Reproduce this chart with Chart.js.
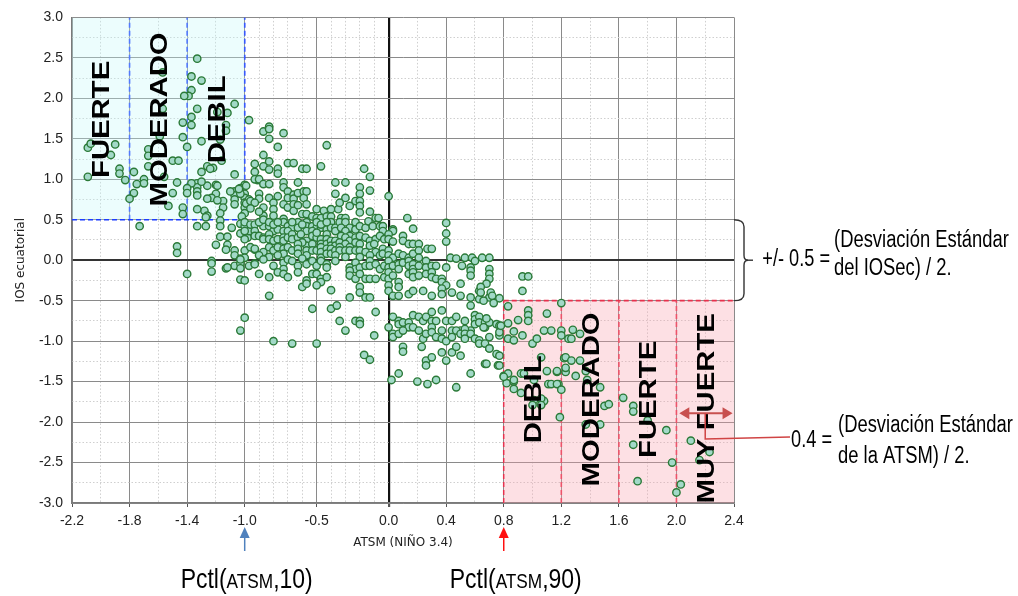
<!DOCTYPE html>
<html>
<head>
<meta charset="utf-8">
<script src="https://cdn.jsdelivr.net/npm/chart.js@4.4.1/dist/chart.umd.min.js"></script>
<style>
  html, body { margin: 0; padding: 0; background: #fff; }
</style>
</head>
<body>
<canvas id="myChart" width="1018" height="596"></canvas>
<script>
// ticks
var xTicks = [-2.2, -1.8, -1.4, -1.0, -0.5, 0, 0.4, 0.8, 1.2, 1.6, 2.0, 2.4];
var xMinor = [-2.0, -1.6, -1.2, -0.9, -0.8, -0.7, -0.6, -0.4, -0.3, -0.2, -0.1, 0.2, 0.6, 1.0, 1.4, 1.8, 2.2];
var yTicks = [-3, -2.5, -2, -1.5, -1, -0.5, 0, 0.5, 1, 1.5, 2, 2.5, 3];
var yMinor = [-2.75, -2.25, -1.75, -1.25, -0.75, -0.25, 0.25, 0.75, 1.25, 1.75, 2.25, 2.75];

// La Nina / El Nino classes
var friaLimites = [-1.8, -1.4, -1.0];
var friaClases = ["FUERTE", "MODERADO", "DEBIL"];
var friaCentros = [-2.0, -1.6, -1.2];
var calidaLimites = [0.8, 1.2, 1.6, 2.0];
var calidaClases = ["DEBIL", "MODERADO", "FUERTE", "MUY FUERTE"];
var calidaCentros = [1.0, 1.4, 1.8, 2.2];
var umbralIOS = 0.5;

// ATSM (x), IOS ecuatorial (y)
var obs = [
  [-1.33,2.49],[-1.37,2.27],[-1.30,2.22],[-1.37,2.10],[-1.39,2.03],[-1.42,2.03],[-1.57,2.32],[-1.57,1.87],[-1.33,1.87],[-1.37,1.77],
  [-1.37,1.67],[-1.43,1.70],[-1.43,1.52],[-1.40,1.40],[-1.30,1.47],[-1.19,1.83],[-1.07,1.93],[-1.12,1.82],[-1.13,1.67],[-1.13,1.60],
  [-1.17,1.49],[-1.16,1.23],[-1.22,1.14],[-1.26,1.16],[-1.30,1.09],[-1.24,1.13],[-1.07,1.06],[-0.97,1.73],[-0.93,1.19],[-0.93,1.09],
  [-0.91,0.99],[-1.00,0.93],[-1.03,0.89],[-1.07,0.85],[-1.07,0.80],[-1.07,0.75],[-1.07,0.69],[-1.00,0.82],[-1.00,0.77],[-1.00,0.71],
  [-1.00,0.65],[-1.00,0.58],[-1.03,0.82],[-0.97,0.75],[-1.20,0.93],[-1.20,0.82],[-1.26,0.92],[-1.33,0.95],[-1.33,0.90],[-1.33,0.85],
  [-1.33,0.80],[-1.37,0.95],[-1.40,0.89],[-1.40,0.83],[-1.43,0.65],[-1.43,0.57],[-1.23,0.77],[-1.26,0.76],[-1.28,0.61],[-1.26,0.55],
  [-1.33,0.63],[-1.15,0.73],[-1.15,0.65],[-1.17,0.58],[-1.30,0.97],[-1.19,0.92],[-1.27,0.53],[-1.10,0.85],[-1.04,0.88],[-0.99,0.92],
  [-0.99,0.70],[-0.96,0.73],[-1.02,0.54],[-1.19,0.74],
  [-1.67,1.37],[-1.67,1.29],[-1.67,1.16],[-1.59,1.53],[-1.70,1.00],[-1.70,0.95],[-1.75,0.94],[-1.77,0.83],[-1.80,0.76],[-1.50,1.23],
  [-1.46,1.23],[-1.56,1.03],[-1.50,0.83],[-1.47,0.96],[-1.53,0.67],[-1.77,1.09],
  [-2.09,1.03],[-2.09,1.39],[-2.07,1.44],[-1.90,1.43],[-1.93,1.30],[-1.87,1.13],[-1.87,1.07],[-1.83,0.99],
  [-1.73,0.42],[-1.47,0.17],[-1.47,0.09],[-1.40,-0.17],[-1.33,0.42],[-1.27,0.42],[-1.17,0.49],[-1.17,0.42],[-1.17,0.29],[-1.12,0.29],
  [-1.20,0.19],[-1.12,0.19],[-1.09,0.40],[-1.03,0.45],[-1.03,0.33],[-1.23,-0.01],[-1.23,-0.04],[-1.23,-0.14],[-1.13,-0.10],[-1.07,0.12],
  [-1.07,0.06],[-1.07,-0.07],[-1.03,0.02],[-1.03,-0.04],[-1.03,-0.10],[-1.03,-0.24],[-1.00,-0.71],[-1.03,-0.87],[-0.93,0.13],[-0.97,-0.07],
  [-0.93,-0.04],[-0.98,0.28],[-1.13,0.13],[-1.12,-0.09],[-1.00,0.42],[-0.97,0.36],
  [-0.87,1.59],[-0.83,1.65],[-0.83,1.62],[-0.83,1.50],[-0.73,1.57],[-0.77,1.40],[-0.43,1.42],[-0.87,1.30],[-0.87,1.16],[-0.83,1.22],
  [-0.83,1.12],[-0.77,1.13],[-0.77,1.07],[-0.70,1.20],[-0.66,1.20],[-0.60,1.13],[-0.57,1.13],[-0.47,1.16],[-0.17,1.13],[-0.13,1.03],
  [-0.93,1.00],[-0.90,1.00],[-0.87,0.94],[-0.83,0.94],[-0.73,0.96],[-0.73,0.90],[-0.63,0.96],[-0.37,0.96],[-0.30,0.96],[-0.20,0.90],
  [-0.20,0.82],[-0.13,0.86],[-0.37,0.82],[0.00,0.79],[0.13,0.52],[0.17,0.39],[0.40,0.46],[-0.90,0.82],[-0.90,0.76],[-0.83,0.77],
  [-0.77,0.79],[-0.70,0.85],[-0.70,0.77],[-0.66,0.81],[-0.66,0.76],[-0.63,0.83],[-0.59,0.85],[-0.59,0.77],[-0.57,0.85],[-0.73,0.69],
  [-0.70,0.65],[-0.80,0.71],[-0.80,0.63],[-0.87,0.65],[-0.66,0.69],[-0.66,0.61],[-0.63,0.68],[-0.57,0.69],[-0.60,0.57],[-0.57,0.57],
  [-0.50,0.63],[-0.45,0.61],[-0.40,0.63],[-0.35,0.63],[-0.33,0.52],[-0.30,0.52],[-0.27,0.67],[-0.23,0.73],[-0.20,0.73],[-0.20,0.67],
  [-0.20,0.59],[-0.13,0.60],[-0.30,0.77],[-0.34,0.71],[-0.09,0.52],[-0.07,0.52],[-0.73,0.51],[-0.53,0.54],[-0.50,0.52],[-0.47,0.52],
  [-0.43,0.54],[-0.40,0.54],[-0.93,0.71],[-0.96,0.64],[-0.87,0.55],[-0.80,0.55],[-0.90,0.60],
  [-1.00,0.47],[-0.96,0.44],[-0.93,0.44],[-0.93,0.36],[-1.00,0.36],[-0.87,0.42],[-0.83,0.42],[-0.80,0.36],[-0.77,0.38],[-0.73,0.47],
  [-0.70,0.42],[-0.67,0.40],[-0.63,0.47],[-0.57,0.47],[-0.57,0.42],[-0.57,0.36],[-0.53,0.42],[-0.50,0.40],[-0.47,0.40],[-0.43,0.38],
  [-0.40,0.47],[-0.40,0.40],[-0.37,0.40],[-0.34,0.47],[-0.30,0.47],[-0.27,0.40],[-0.23,0.47],[-0.23,0.38],[-0.20,0.42],[-0.16,0.40],
  [-0.14,0.48],[-0.11,0.42],[-0.06,0.42],[-0.04,0.42],[-0.04,0.36],[0.03,0.38],[0.03,0.36],
  [-0.90,0.47],[-0.87,0.50],[-0.83,0.47],[-0.80,0.44],[-0.77,0.47],[-0.73,0.36],[-0.70,0.36],[-0.67,0.47],[-0.63,0.40],[-0.60,0.44],
  [-0.53,0.36],[-0.50,0.47],[-0.47,0.44],[-0.43,0.47],[-0.37,0.36],[-0.33,0.40],[-0.30,0.36],[-0.27,0.30],[-0.33,0.30],[-0.43,0.32],
  [-1.00,0.26],[-0.93,0.30],[-0.90,0.30],[-0.87,0.28],[-0.87,0.26],[-0.83,0.32],[-0.83,0.26],[-0.80,0.24],[-0.77,0.26],[-0.73,0.28],
  [-0.73,0.24],[-0.70,0.28],[-0.67,0.32],[-0.67,0.26],[-0.63,0.28],[-0.61,0.32],[-0.57,0.24],[-0.57,0.18],[-0.53,0.30],[-0.50,0.28],
  [-0.47,0.26],[-0.47,0.20],[-0.43,0.26],[-0.43,0.20],[-0.40,0.24],[-0.40,0.18],[-0.37,0.24],[-0.37,0.18],[-0.34,0.22],[-0.30,0.28],
  [-0.27,0.24],[-0.23,0.28],[-0.23,0.22],[-0.20,0.30],[-0.16,0.28],[-0.13,0.24],[-0.13,0.18],[-0.09,0.26],[-0.06,0.30],[-0.03,0.26],
  [0.00,0.32],[0.00,0.26],[0.03,0.23],[0.10,0.30],[0.10,0.24],[0.14,0.20],[0.17,0.20],[0.21,0.20],[0.40,0.33],[0.40,0.23],
  [-0.50,0.34],[-0.60,0.22],[-0.63,0.20],[-0.53,0.20],[-0.30,0.20],[-0.27,0.16],[-0.20,0.20],[-0.10,0.20],
  [-1.00,0.12],[-1.00,0.03],[-0.96,0.16],[-0.93,0.14],[-0.87,0.10],[-0.83,0.16],[-0.80,0.12],[-0.77,0.16],[-0.73,0.14],[-0.73,0.08],
  [-0.70,0.16],[-0.67,0.12],[-0.63,0.14],[-0.63,0.08],[-0.57,0.12],[-0.57,0.06],[-0.53,0.12],[-0.50,0.12],[-0.47,0.16],[-0.47,0.10],
  [-0.47,0.03],[-0.43,0.14],[-0.43,0.08],[-0.40,0.14],[-0.40,0.08],[-0.37,0.12],[-0.34,0.16],[-0.34,0.12],[-0.30,0.12],[-0.27,0.12],
  [-0.23,0.12],[-0.20,0.12],[-0.16,0.10],[-0.09,0.10],[-0.06,0.06],[-0.04,0.14],[-0.04,0.08],[0.00,0.12],[0.00,0.06],[0.03,0.03],
  [0.07,0.08],[0.10,0.06],[0.14,0.03],[0.17,0.08],[0.21,0.12],[0.21,0.03],[0.27,0.14],[0.30,0.14],[0.43,0.03],[0.47,0.02],
  [0.53,0.03],[0.58,0.03],[0.60,-0.01],[0.65,0.03],[0.70,0.03],
  [-0.37,0.06],[-0.30,0.04],[-0.20,0.04],[-0.13,0.06],[-0.60,0.02],[-0.77,0.06],[-0.83,0.04],[-0.90,0.06],
  [-1.03,0.01],[-0.93,-0.05],[-0.87,0.01],[-0.80,-0.07],[-0.73,-0.03],[-0.73,-0.11],[-0.70,0.01],[-0.67,-0.01],[-0.63,-0.07],[-0.57,-0.05],
  [-0.53,-0.01],[-0.50,-0.07],[-0.47,-0.01],[-0.43,-0.05],[-0.43,-0.09],[-0.37,-0.01],[-0.27,-0.09],[-0.23,-0.03],[-0.23,-0.11],[-0.20,-0.09],
  [-0.16,-0.07],[-0.13,-0.01],[-0.13,-0.07],[-0.09,-0.05],[-0.06,-0.11],[-0.03,-0.07],[0.00,-0.01],[0.00,-0.09],[0.03,-0.07],[0.07,-0.05],
  [0.07,-0.11],[0.10,-0.03],[0.14,-0.01],[0.14,-0.07],[0.17,-0.05],[0.17,-0.11],[0.21,-0.07],[0.26,-0.01],[0.26,-0.09],[0.30,-0.07],
  [0.33,-0.07],[0.40,-0.09],[0.51,-0.07],[0.57,-0.09],[0.57,-0.13],[0.70,-0.11],
  [-1.00,-0.25],[-0.90,-0.17],[-0.83,-0.21],[-0.77,-0.15],[-0.73,-0.17],[-0.70,-0.21],[-0.63,-0.15],[-0.57,-0.25],[-0.53,-0.17],[-0.50,-0.17],
  [-0.47,-0.23],[-0.47,-0.27],[-0.43,-0.21],[-0.27,-0.13],[-0.27,-0.19],[-0.23,-0.23],[-0.20,-0.17],[-0.16,-0.23],[-0.13,-0.23],[-0.09,-0.23],
  [-0.03,-0.21],[0.00,-0.15],[0.00,-0.23],[0.03,-0.19],[0.07,-0.27],[0.14,-0.17],[0.17,-0.15],[0.17,-0.21],[0.21,-0.19],[0.26,-0.17],
  [0.30,-0.15],[0.30,-0.21],[0.33,-0.23],[0.37,-0.23],[0.37,-0.27],[0.40,-0.31],[0.50,-0.29],[0.57,-0.19],[0.70,-0.17],[0.70,-0.23],
  [0.93,-0.20],[0.97,-0.20],[0.68,-0.29],
  [-0.83,-0.44],[-0.60,-0.33],[-0.57,-0.29],[-0.50,-0.31],[-0.40,-0.37],[-0.27,-0.46],[-0.20,-0.33],[-0.20,-0.40],[-0.16,-0.46],[-0.13,-0.46],
  [0.00,-0.31],[0.00,-0.38],[0.03,-0.44],[0.07,-0.33],[0.07,-0.44],[0.14,-0.42],[0.17,-0.38],[0.24,-0.38],[0.30,-0.44],[0.37,-0.35],
  [0.37,-0.42],[0.44,-0.40],[0.50,-0.44],[0.57,-0.46],[0.63,-0.38],[0.63,-0.48],[0.70,-0.46],[0.64,-0.33],[0.64,-0.40],[0.71,-0.40],
  [0.93,-0.38],[0.72,-0.44],[0.77,-0.47],[0.66,-0.50],
  [-0.53,-0.60],[-0.40,-0.60],[-0.36,-0.56],[-0.34,-0.75],[-0.23,-0.75],[-0.20,-0.75],[-0.20,-0.79],[-0.09,-0.64],[0.03,-0.70],[0.07,-0.75],
  [0.07,-0.79],[0.10,-0.77],[0.14,-0.77],[0.14,-0.83],[0.17,-0.68],[0.21,-0.70],[0.24,-0.75],[0.26,-0.70],[0.30,-0.64],[0.30,-0.75],
  [0.33,-0.75],[0.37,-0.62],[0.40,-0.75],[0.44,-0.75],[0.47,-0.70],[0.50,-0.87],[0.53,-0.75],[0.57,-0.56],[0.57,-0.87],[0.60,-0.68],
  [0.60,-0.73],[0.60,-0.79],[0.63,-0.70],[0.63,-0.77],[0.67,-0.77],[0.67,-0.83],[0.70,-0.77],[0.75,-0.79],[0.73,-0.53],[0.68,-0.72],
  [-0.80,-1.00],[-0.67,-1.03],[-0.50,-1.03],[-0.30,-0.87],[-0.10,-0.93],[0.00,-0.83],[0.03,-0.91],[0.03,-0.95],[0.07,-0.91],[0.10,-0.87],
  [0.17,-0.83],[0.21,-0.87],[0.24,-0.97],[0.26,-0.91],[0.30,-0.83],[0.30,-0.89],[0.33,-0.95],[0.37,-0.87],[0.37,-0.97],[0.40,-1.00],
  [0.44,-0.87],[0.44,-0.95],[0.47,-0.87],[0.50,-0.91],[0.53,-0.85],[0.53,-0.91],[0.53,-0.97],[0.57,-0.91],[0.60,-0.97],[0.63,-0.99],
  [0.63,-1.03],[0.70,-1.09],[0.75,-1.16],[0.66,-0.83],[0.70,-0.95],[0.77,-0.93],[0.67,-1.03],
  [-0.17,-1.17],[-0.13,-1.23],[0.10,-1.07],[0.10,-1.13],[0.02,-1.48],[0.07,-1.40],[0.20,-1.50],[0.27,-1.53],[0.33,-1.48],[0.23,-1.07],
  [0.26,-1.24],[0.26,-1.30],[0.30,-1.20],[0.37,-1.14],[0.40,-1.24],[0.44,-1.14],[0.47,-1.07],[0.50,-1.18],[0.57,-1.40],[0.47,-1.57],
  [0.67,-1.28],[0.76,-1.30],[0.68,-1.28],
  [0.83,-0.57],[0.83,-0.78],[0.77,-0.81],[0.77,-0.89],[0.83,-0.97],[0.87,-0.99],[0.90,-0.74],[0.97,-0.62],[0.97,-0.68],[0.97,-0.75],
  [1.10,-0.66],[1.08,-0.87],[1.13,-0.87],[1.00,-1.03],[1.03,-0.97],[0.70,-1.09],[0.77,-1.18],[0.80,-1.43],[0.83,-1.40],[0.82,-1.52],
  [0.87,-1.50],[0.92,-1.40],[0.92,-1.64],[1.08,-1.74],[1.17,-1.38],[1.18,-1.53],[1.23,-1.38],[1.11,-1.53],[1.22,-1.21],[1.25,-0.97],
  [1.20,-0.53],[0.78,-0.81],[0.87,-0.88],[0.93,-0.93],[1.20,-0.87],[1.20,-0.93],[1.28,-0.86],[1.33,-0.91],[1.27,-0.97],[0.77,-1.30],
  [0.80,-1.44],[0.87,-1.48],[0.87,-1.59],[0.94,-1.40],[1.01,-1.48],[1.06,-1.20],[1.10,-1.37],[1.17,-1.37],[1.13,-1.53],[1.17,-1.53],
  [1.20,-1.60],[1.23,-1.33],[1.23,-1.20],[1.27,-1.24],[1.33,-1.24],[1.30,-1.43],[1.37,-1.37],[1.38,-1.48],[1.47,-1.57],[1.50,-1.80],
  [1.53,-1.78],[1.37,-2.03],[1.47,-2.03],[1.01,-1.73],[1.06,-1.71],[1.06,-1.79],[1.00,-1.79],[1.19,-1.94],[1.63,-1.70],[1.70,-1.80],
  [1.70,-1.87],[1.80,-1.98],[1.70,-2.28],[1.73,-2.73],[1.93,-2.10],[1.97,-2.50],[2.03,-2.77],[2.00,-2.87],[2.10,-2.23],[2.23,-2.37],
  [2.16,-2.47]
];

var fuente = "'Liberation Sans', Arial, sans-serif";

function textoPartes(ctx, partes, x, y, sx, align) {
  ctx.save();
  ctx.translate(x, y);
  ctx.scale(sx, 1);
  var w = 0;
  partes.forEach(function (p) {
    ctx.font = p[1] + "px " + fuente;
    w += ctx.measureText(p[0]).width;
  });
  var cx = align === "center" ? -w / 2 : align === "right" ? -w : 0;
  ctx.textAlign = "left";
  ctx.textBaseline = "alphabetic";
  ctx.fillStyle = "#000";
  partes.forEach(function (p) {
    ctx.font = p[1] + "px " + fuente;
    ctx.fillText(p[0], cx, 0);
    cx += ctx.measureText(p[0]).width;
  });
  ctx.restore();
}

function textoVertical(ctx, txt, x, y) {
  ctx.save();
  ctx.translate(x, y);
  ctx.rotate(-Math.PI / 2);
  ctx.scale(1.22, 1);
  ctx.font = "bold 24px " + fuente;
  ctx.textAlign = "center";
  ctx.textBaseline = "alphabetic";
  ctx.fillStyle = "#000";
  ctx.fillText(txt, 0, 8.6);
  ctx.restore();
}

function punta(ctx, x, y, ang, len, half, color) {
  ctx.save();
  ctx.translate(x, y);
  ctx.rotate(ang);
  ctx.fillStyle = color;
  ctx.beginPath();
  ctx.moveTo(0, 0);
  ctx.lineTo(-len, -half);
  ctx.lineTo(-len, half);
  ctx.closePath();
  ctx.fill();
  ctx.restore();
}

var decor = {
  id: "decor",
  afterDatasetsDraw: function (chart) {
    var ctx = chart.ctx, xs = chart.scales.x, ys = chart.scales.y;
    friaClases.forEach(function (c, i) {
      textoVertical(ctx, c, xs.getPixelForValue(friaCentros[i]), ys.getPixelForValue(1.74));
    });
    calidaClases.forEach(function (c, i) {
      var yv = c === "MUY FUERTE" ? -1.83 : -1.72;
      textoVertical(ctx, c, xs.getPixelForValue(calidaCentros[i]), ys.getPixelForValue(yv));
    });
  },
  afterDraw: function (chart) {
    var ctx = chart.ctx, xs = chart.scales.x, ys = chart.scales.y, area = chart.chartArea;
    var rojo = "#c8504f";

    // double arrow over MUY FUERTE band
    var ay = ys.getPixelForValue(-1.89);
    var ax1 = xs.getPixelForValue(2.02), ax2 = xs.getPixelForValue(2.39);
    ctx.save();
    ctx.strokeStyle = rojo;
    ctx.lineWidth = 2;
    ctx.beginPath();
    ctx.moveTo(ax1 + 8, ay);
    ctx.lineTo(ax2 - 8, ay);
    ctx.stroke();
    punta(ctx, ax1, ay, Math.PI, 10, 6, rojo);
    punta(ctx, ax2, ay, 0, 10, 6, rojo);

    // connector to the 0.4 note
    var cx = xs.getPixelForValue(2.2);
    ctx.lineWidth = 1.5;
    ctx.strokeStyle = "#d04444";
    ctx.beginPath();
    ctx.moveTo(cx, ay);
    ctx.lineTo(cx, 439);
    ctx.lineTo(790, 437);
    ctx.stroke();
    ctx.restore();

    // brace for +/- 0.5
    var x0 = area.right, t = ys.getPixelForValue(umbralIOS), b = ys.getPixelForValue(-umbralIOS), m = ys.getPixelForValue(0);
    ctx.save();
    ctx.strokeStyle = "#333";
    ctx.lineWidth = 1.4;
    ctx.beginPath();
    ctx.moveTo(x0, t);
    ctx.quadraticCurveTo(x0 + 10, t, x0 + 10, t + 7);
    ctx.lineTo(x0 + 10, m - 5);
    ctx.quadraticCurveTo(x0 + 10, m, x0 + 14, m);
    ctx.quadraticCurveTo(x0 + 10, m, x0 + 10, m + 5);
    ctx.lineTo(x0 + 10, b - 7);
    ctx.quadraticCurveTo(x0 + 10, b, x0, b);
    ctx.stroke();
    ctx.beginPath();
    ctx.moveTo(x0 + 12, m);
    ctx.lineTo(x0 + 19, m);
    ctx.stroke();
    ctx.restore();

    textoPartes(ctx, [["+/- 0.5 =", 23]], 830, 266, 0.79, "right");
    textoPartes(ctx, [["(Desviación Estándar", 23]], 834, 247, 0.8, "left");
    textoPartes(ctx, [["del IOSec) / 2.", 23]], 834, 275, 0.8, "left");

    textoPartes(ctx, [["0.4 =", 23]], 832, 447, 0.79, "right");
    textoPartes(ctx, [["(Desviación Estándar", 23]], 838, 432, 0.8, "left");
    textoPartes(ctx, [["de la ATSM) / 2.", 23]], 838, 463, 0.8, "left");

    // percentile arrows
    var p10 = xs.getPixelForValue(-1.0), p90 = xs.getPixelForValue(0.8);
    [[p10, "#4f81bd"], [p90, "#ff1010"]].forEach(function (a) {
      ctx.save();
      ctx.strokeStyle = a[1];
      ctx.lineWidth = 1.5;
      ctx.beginPath();
      ctx.moveTo(a[0], 536);
      ctx.lineTo(a[0], 551);
      ctx.stroke();
      punta(ctx, a[0], 527, -Math.PI / 2, 11, 5, a[1]);
      ctx.restore();
    });
    textoPartes(ctx, [["Pctl(", 28], ["ATSM", 21], [",10)", 28]], p10 + 2, 588, 0.82, "center");
    textoPartes(ctx, [["Pctl(", 28], ["ATSM", 21], [",90)", 28]], p90 + 12, 588, 0.82, "center");
  }
};

function zero(c, a, b) {
  return c.tick && Math.abs(c.tick.value) < 1e-9 ? a : b;
}

var lineaBase = { type: "line", xAxisID: "x", yAxisID: "y", pointRadius: 0, borderWidth: 1.6, fill: false, borderDash: [5, 3] };

var datasets = [
  {
    type: "scatter",
    label: "IOS vs ATSM",
    data: obs.map(function (p) { return { x: p[0], y: p[1] }; }),
    xAxisID: "x",
    yAxisID: "y",
    pointRadius: 3.7,
    pointBorderWidth: 1.4,
    pointBackgroundColor: "#a2d9c8",
    pointBorderColor: "#2b7a38"
  },
  Object.assign({}, lineaBase, {
    data: [{ x: -2.2, y: umbralIOS }, { x: -1.0, y: umbralIOS }],
    fill: "end",
    backgroundColor: "rgba(195,248,248,0.32)",
    borderColor: "#1d3dff"
  }),
  Object.assign({}, lineaBase, {
    data: [{ x: 0.8, y: -umbralIOS }, { x: 2.4, y: -umbralIOS }],
    fill: "start",
    backgroundColor: "rgba(250,160,172,0.32)",
    borderColor: "#e8304c"
  })
];
friaLimites.forEach(function (v) {
  datasets.push(Object.assign({}, lineaBase, { data: [{ x: v, y: umbralIOS }, { x: v, y: 3 }], borderColor: "#1d3dff" }));
});
calidaLimites.forEach(function (v) {
  datasets.push(Object.assign({}, lineaBase, { data: [{ x: v, y: -3 }, { x: v, y: -umbralIOS }], borderColor: "#e8304c" }));
});

var tickFont = { family: fuente, size: 14 };

new Chart("myChart", {
  type: "scatter",
  data: { datasets: datasets },
  plugins: [decor],
  options: {
    responsive: false,
    animation: false,
    layout: { padding: { top: 16, right: 284, bottom: 0, left: 0 } },
    plugins: { legend: { display: false }, tooltip: { enabled: false } },
    scales: {
      x: {
        type: "linear",
        position: "bottom",
        min: -2.2,
        max: 2.4,
        afterBuildTicks: function (s) { s.ticks = xTicks.map(function (v) { return { value: v }; }); },
        afterFit: function (s) { s.height = 93; },
        ticks: { autoSkip: false, maxRotation: 0, padding: 6, color: "#222", font: tickFont,
          callback: function (v) { return Number(v).toFixed(1); } },
        grid: {
          color: function (c) { return zero(c, "#111", "#8a8a8a"); },
          lineWidth: function (c) { return zero(c, 2.2, 1); },
          drawTicks: true, tickLength: 4, tickColor: "#555"
        },
        border: { color: "#7a7a7a", width: 1.5 },
        title: { display: true, text: "ATSM (NIÑO 3.4)", color: "#222",
          font: { family: "'DejaVu Sans', sans-serif", size: 12 }, padding: { top: 0, bottom: 46 } }
      },
      xMinor: {
        type: "linear",
        position: "bottom",
        min: -2.2,
        max: 2.4,
        afterBuildTicks: function (s) { s.ticks = xMinor.map(function (v) { return { value: v }; }); },
        afterFit: function (s) { s.height = 0; },
        ticks: { display: false },
        grid: { color: "#cfcfcf", lineWidth: 1, drawTicks: false },
        border: { display: false, dash: [1.5, 2] }
      },
      y: {
        type: "linear",
        position: "left",
        min: -3,
        max: 3,
        afterBuildTicks: function (s) { s.ticks = yTicks.map(function (v) { return { value: v }; }); },
        afterFit: function (s) { s.width = 72; },
        ticks: { padding: 9, color: "#222", font: tickFont,
          callback: function (v) { return Number(v).toFixed(1); } },
        grid: {
          color: function (c) { return zero(c, "#333", "#8a8a8a"); },
          lineWidth: function (c) { return zero(c, 2, 1); },
          drawTicks: false
        },
        border: { color: "#7a7a7a", width: 1.5 },
        title: { display: true, text: "IOS ecuatorial", color: "#222",
          font: { family: "'DejaVu Sans', sans-serif", size: 12 }, padding: { top: 14, bottom: 0 } }
      },
      yMinor: {
        type: "linear",
        position: "left",
        min: -3,
        max: 3,
        afterBuildTicks: function (s) { s.ticks = yMinor.map(function (v) { return { value: v }; }); },
        afterFit: function (s) { s.width = 0; },
        ticks: { display: false },
        grid: { color: "#cfcfcf", lineWidth: 1, drawTicks: false },
        border: { display: false, dash: [1.5, 2] }
      }
    }
  }
});
</script>
</body>
</html>
